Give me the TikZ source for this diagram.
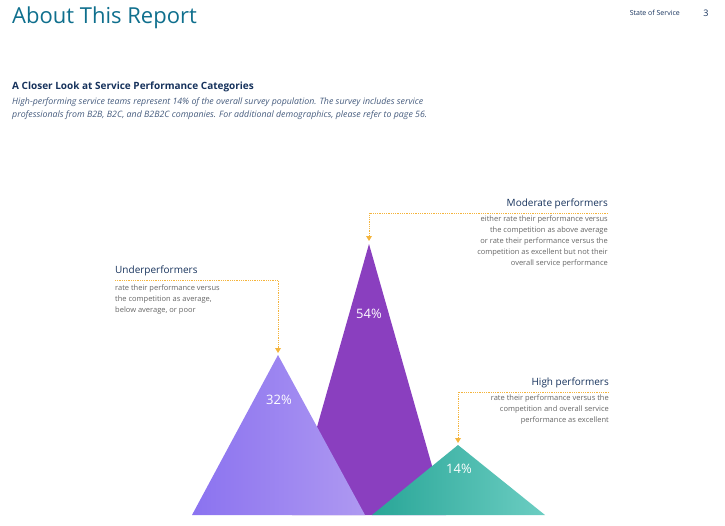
\documentclass[tikz,border=0pt]{standalone}
\usepackage{fontspec}
\setmainfont{Open Sans}
\usetikzlibrary{positioning}
\definecolor{inkblue}{HTML}{16325C}
\definecolor{leadgold}{HTML}{F4B43C}
\definecolor{lilac}{HTML}{9A7FEE}
\definecolor{plum}{HTML}{8A3FBF}
\definecolor{seagreen}{HTML}{2DB8A8}
\tikzset{
  head/.style={anchor=south west,inner sep=0pt,font=\fontsize{10}{12}\selectfont,text=inkblue},
  body/.style={anchor=north west,inner sep=0pt,align=left,font=\fontsize{7.5}{11}\selectfont,text=gray!80!black},
  pct/.style={text=white,font=\fontsize{13}{15}\selectfont},
  lead/.style={leadgold,densely dotted,line width=0.8pt},
  tip/.style={fill=leadgold}
}
\begin{document}
\begin{tikzpicture}[x=1pt,y=-1pt]
    \useasboundingbox (0,0) rectangle (725,525);
    % header
    \node[anchor=west,inner sep=0pt,font=\fontsize{22}{24}\selectfont,text=inkblue!70!cyan] (title) at (12,18) {About This Report};
    \node[anchor=east,inner sep=0pt,font=\fontsize{7}{8}\selectfont,text=inkblue] (sos) at (680,13) {State of Service};
    \node[anchor=center,inner sep=0pt,font=\fontsize{9}{10}\selectfont,text=inkblue] (page) at (706,13) {3};
    \node[anchor=west,inner sep=0pt,font=\fontsize{10}{12}\selectfont\bfseries,text=inkblue] (sub) at (12,87) {A Closer Look at Service Performance Categories};
    \node[anchor=north west,inner sep=0pt,align=left,font=\fontsize{8.8}{13}\selectfont\itshape,text=inkblue!80] (intro) at (12,98)
      {High-performing service teams represent 14\% of the overall survey population. The survey includes service\\
       professionals from B2B, B2C, and B2B2C companies. For additional demographics, please refer to page 56.};
    % peaks
    \coordinate (midtop) at (369,244);
    \coordinate (lowtop) at (278,355);
    \coordinate (hightop) at (458,445);
    \fill[plum] (292,515) -- (midtop) -- (446,515) -- cycle;
    \shade[left color=lilac!90!blue,right color=lilac!80!white] (192,515) -- (lowtop) -- (365,515) -- cycle;
    \shade[left color=seagreen!90!black,right color=seagreen!70!white] (372,515) -- (hightop) -- (545,515) -- cycle;
    \node[pct] (p54) at (369,314) {54\%};
    \node[pct] (p32) at (279,400) {32\%};
    \node[pct] (p14) at (459,469) {14\%};
    % labels
    \node[head] (under) at (115,276) {Underperformers};
    \node[body] (underT) at (115,285) {rate their performance versus\\the competition as average,\\below average, or poor};
    \node[head,anchor=south east] (mod) at (608,209) {Moderate performers};
    \node[body,anchor=north east,align=right] (modT) at (608,216) {either rate their performance versus\\the competition as above average\\or rate their performance versus the\\competition as excellent but not their\\overall service performance};
    \node[head,anchor=south east] (high) at (609,388) {High performers};
    \node[body,anchor=north east,align=right] (highT) at (609,395) {rate their performance versus the\\competition and overall service\\performance as excellent};
    % leaders
    \draw[lead] (115,280) -- (278,280) -- (278,349);
    \fill[tip] (275,348) -- (281,348) -- (278,353) -- cycle;
    \draw[lead] (608,213) -- (369,213) -- (369,237);
    \fill[tip] (366,236) -- (372,236) -- (369,241) -- cycle;
    \draw[lead] (609,392) -- (458,392) -- (458,439);
    \fill[tip] (455,438) -- (461,438) -- (458,443) -- cycle;
\end{tikzpicture}
\end{document}
